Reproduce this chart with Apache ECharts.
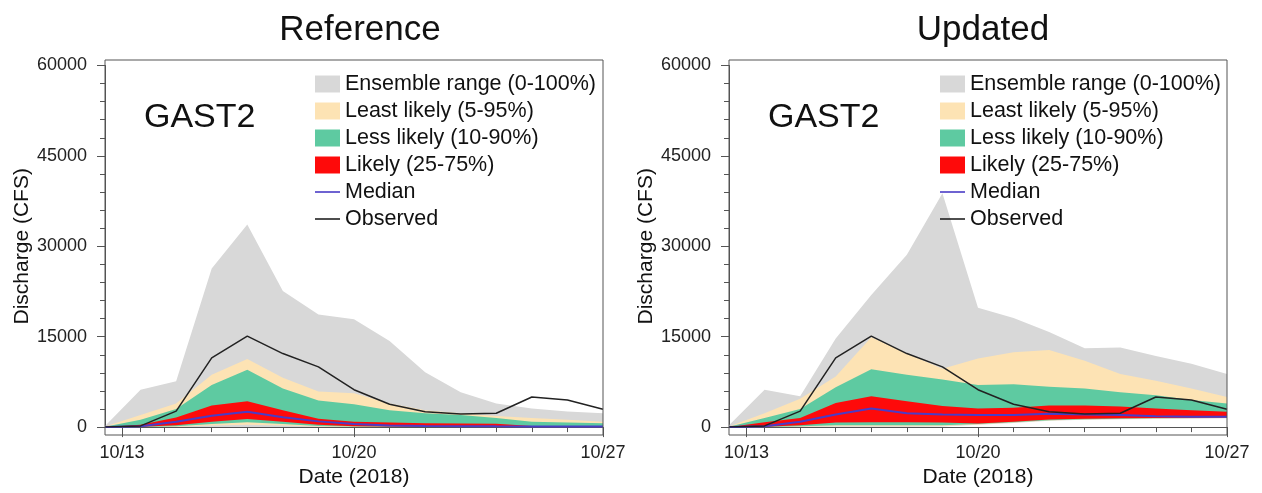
<!DOCTYPE html>
<html><head><meta charset="utf-8">
<script src="https://cdn.jsdelivr.net/npm/echarts@6/dist/echarts.min.js"></script>
<style>html,body{margin:0;padding:0;background:#fff}#c{width:1262px;height:493px}</style>
</head><body><div id="c"></div>
<script>
// ---- data ----
const dates = ['10/13','10/14','10/15','10/16','10/17','10/18','10/19','10/20','10/21','10/22','10/23','10/24','10/25','10/26','10/27'];
const majorTickLabels = ['10/13','10/20','10/27'];
const refMajorTickDays = [0.48, 7, 14];
const refMinorTickDays = [1, 1.66, 3, 4, 5, 6, 8, 9, 10, 11, 12, 13];
const updMajorTickDays = [0.49, 7, 14];
const updMinorTickDays = [1, 2, 3, 4, 5, 6, 8, 9, 10, 11, 12, 13];
const panelTitles = ['Reference', 'Updated'];
const gaugeName = 'GAST2';
const legendNames = ['Ensemble range (0-100%)', 'Least likely (5-95%)', 'Less likely (10-90%)', 'Likely (25-75%)', 'Median', 'Observed'];

const observed = [0, 200, 2650, 11500, 15100, 12200, 10000, 6200, 3800, 2560, 2180, 2300, 5000, 4500, 2950];

// Reference panel
const refGrayLo  = [0, 0, 0, 0, 0, 0, 0, 0, 0, 0, 0, 0, 0, 0, 0];
const refGrayHi  = [200, 6200, 7600, 26300, 33600, 22600, 18700, 17900, 14300, 9100, 5800, 3900, 3100, 2600, 2300];
const refTanLo   = [0, 0, 50, 250, 400, 250, 100, 30, 20, 10, 10, 10, 10, 10, 10];
const refTanHi   = [100, 2000, 3900, 8700, 11300, 8200, 5900, 5600, 3900, 2800, 2300, 1850, 1500, 1200, 900];
const refGreenLo = [0, 20, 150, 500, 800, 500, 200, 80, 50, 30, 30, 30, 30, 30, 30];
const refGreenHi = [50, 1200, 3000, 7000, 9500, 6400, 4400, 3800, 2800, 2300, 2000, 1500, 900, 750, 650];
const refRedLo   = [0, 50, 300, 900, 1350, 900, 400, 150, 100, 50, 50, 50, 50, 50, 50];
const refRedHi   = [0, 400, 1600, 3600, 4300, 2800, 1400, 900, 750, 650, 600, 550, 180, 160, 160];
const refMedian  = [0, 150, 900, 1900, 2550, 1650, 950, 500, 250, 180, 150, 130, 120, 120, 120];

// Updated panel
const updGrayLo  = [0, 0, 50, 50, 50, 50, 100, 400, 700, 1050, 1200, 1300, 1350, 1400, 1450];
const updGrayHi  = [300, 6200, 5100, 14700, 21900, 28600, 38800, 19800, 18100, 15800, 13100, 13200, 11800, 10500, 8800];
const updTanLo   = [0, 20, 100, 150, 150, 150, 200, 450, 750, 1100, 1250, 1350, 1400, 1450, 1500];
const updTanHi   = [100, 2300, 4700, 8400, 14900, 12200, 9700, 11400, 12400, 12800, 11000, 8800, 7700, 6400, 5000];
const updGreenLo = [0, 30, 150, 300, 300, 300, 300, 500, 800, 1150, 1300, 1400, 1450, 1500, 1550];
const updGreenHi = [50, 1500, 3000, 6600, 9600, 8700, 7900, 7000, 7100, 6700, 6400, 5800, 5300, 4500, 3900];
const updRedLo   = [0, 50, 300, 750, 800, 800, 750, 600, 900, 1250, 1400, 1450, 1500, 1550, 1600];
const updRedHi   = [0, 800, 1500, 4000, 5100, 4300, 3500, 3100, 3200, 3600, 3600, 3400, 3100, 2800, 2550];
const updMedian  = [0, 150, 900, 2100, 3100, 2300, 2100, 2000, 2000, 2200, 2100, 2000, 1800, 1700, 1700];

// ---- styling ----
const FONT = '"Liberation Sans", Arial, Helvetica, sans-serif';
const AX = '#555';
const C_GRAY = '#d8d8d8', C_TAN = '#fde3b4', C_GREEN = '#5ecaa1', C_RED = '#fe0a0a';
const C_MED = '#4a3cc6', C_OBS = '#222222';
const LINE_ICON = 'path://M0,0H25V1.6H0Z';

const panels = [
  {key:'ref', left:105, title:panelTitles[0], titleX:355, major:refMajorTickDays, minor:refMinorTickDays,
   bands:[[refGrayLo,refGrayHi],[refTanLo,refTanHi],[refGreenLo,refGreenHi],[refRedLo,refRedHi]], median:refMedian, legendLeft:315},
  {key:'upd', left:729, title:panelTitles[1], titleX:978, major:updMajorTickDays, minor:updMinorTickDays,
   bands:[[updGrayLo,updGrayHi],[updTanLo,updTanHi],[updGreenLo,updGreenHi],[updRedLo,updRedHi]], median:updMedian, legendLeft:940}
];
const bandColors = [C_GRAY, C_TAN, C_GREEN, C_RED];

const grid = [], xAxis = [], yAxis = [], series = [], title = [], legend = [];
panels.forEach((p, k) => {
  const gFrame = grid.length;
  grid.push({show:true, z:10, left:p.left, top:60, width:498, height:375, borderColor:AX, borderWidth:1, backgroundColor:'rgba(0,0,0,0)'});
  const gPlot = grid.length;
  grid.push({left:p.left, top:65.5, width:498, height:369.5});
  xAxis.push({gridIndex:gFrame, type:'value', show:false, min:0, max:1});
  yAxis.push({gridIndex:gFrame, type:'value', show:false, min:0, max:1});
  // category axis carrying the series (hidden)
  const xi = xAxis.length;
  xAxis.push({gridIndex:gPlot, type:'category', data:dates, boundaryGap:false, position:'bottom', show:false});
  // visible axis with the labelled ticks
  xAxis.push({
    gridIndex:gPlot, type:'value', position:'bottom', offset:0, min:0, max:dates.length - 1,
    axisLine:{show:true, onZero:false, lineStyle:{color:AX}},
    axisTick:{show:true, length:10, customValues:p.major, lineStyle:{color:AX}},
    axisLabel:{customValues:p.major, formatter:(v) => {
      const i = p.major.findIndex(m => Math.abs(m - v) < 1e-6); return i >= 0 ? majorTickLabels[i] : '';
    }, fontSize:18, color:'#222', margin:17, fontFamily:FONT},
    splitLine:{show:false},
    name:'Date (2018)', nameLocation:'middle', nameGap:34,
    nameTextStyle:{fontSize:21, color:'#111', fontFamily:FONT}
  });
  // minor ticks
  xAxis.push({
    gridIndex:gPlot, type:'value', position:'bottom', offset:0, min:0, max:dates.length - 1,
    axisLine:{show:false, onZero:false}, axisTick:{show:true, length:5, customValues:p.minor, lineStyle:{color:AX}},
    axisLabel:{show:false}, splitLine:{show:false}
  });
  const yi = yAxis.length;
  yAxis.push({
    gridIndex:gPlot, type:'value', min:0, max:60000, interval:15000,
    axisLine:{show:true, lineStyle:{color:AX}},
    axisTick:{show:true, length:8, lineStyle:{color:AX}},
    minorTick:{show:true, splitNumber:5, length:5, lineStyle:{color:AX}},
    splitLine:{show:false}, minorSplitLine:{show:false},
    axisLabel:{fontSize:18, color:'#222', margin:18, fontFamily:FONT, formatter:(v) => String(v)},
    name:'Discharge (CFS)', nameLocation:'middle', nameGap:66,
    nameTextStyle:{fontSize:21, color:'#111', fontFamily:FONT}
  });
  p.bands.forEach((b, j) => {
    const [lo, hi] = b;
    const stack = p.key + '_band' + j;
    series.push({type:'line', name:stack + '_base', stack, xAxisIndex:xi, yAxisIndex:yi, silent:true,
      symbol:'none', lineStyle:{width:0, opacity:0}, data:lo.slice()});
    series.push({type:'line', name:legendNames[j], stack, xAxisIndex:xi, yAxisIndex:yi, silent:true,
      symbol:'none', lineStyle:{width:0, opacity:0}, itemStyle:{color:bandColors[j]},
      areaStyle:{color:bandColors[j], opacity:1}, data:hi.map((v, i) => v - lo[i])});
  });
  series.push({type:'line', name:legendNames[4], xAxisIndex:xi, yAxisIndex:yi, symbol:'none', silent:true,
    lineStyle:{color:C_MED, width:2}, itemStyle:{color:C_MED}, data:p.median.slice()});
  series.push({type:'line', name:legendNames[5], xAxisIndex:xi, yAxisIndex:yi, symbol:'none', silent:true,
    lineStyle:{color:C_OBS, width:1.5}, itemStyle:{color:C_OBS}, data:observed.slice()});

  title.push({text:p.title, left:p.titleX, top:8, textAlign:'center',
    textStyle:{fontSize:35, fontWeight:'normal', color:'#111', fontFamily:FONT}});
  title.push({text:gaugeName, left:p.left + 34, top:96,
    textStyle:{fontSize:34, fontWeight:'normal', color:'#111', fontFamily:FONT}});
  legend.push({
    left:p.legendLeft, top:73, orient:'vertical', padding:0, itemWidth:25, itemHeight:17, itemGap:5,
    selectedMode:false, symbolKeepAspect:true,
    textStyle:{fontSize:21.5, lineHeight:21, color:'#111', fontFamily:FONT},
    data:legendNames.map((n, j) => j < 4 ? {name:n, icon:'rect'} : {name:n, icon:LINE_ICON})
  });
});

const chart = echarts.init(document.getElementById('c'), null, {renderer:'canvas'});
chart.setOption({
  animation:false,
  backgroundColor:'#fff',
  textStyle:{fontFamily:FONT},
  title, legend, grid, xAxis, yAxis, series
});
</script>
</body></html>
